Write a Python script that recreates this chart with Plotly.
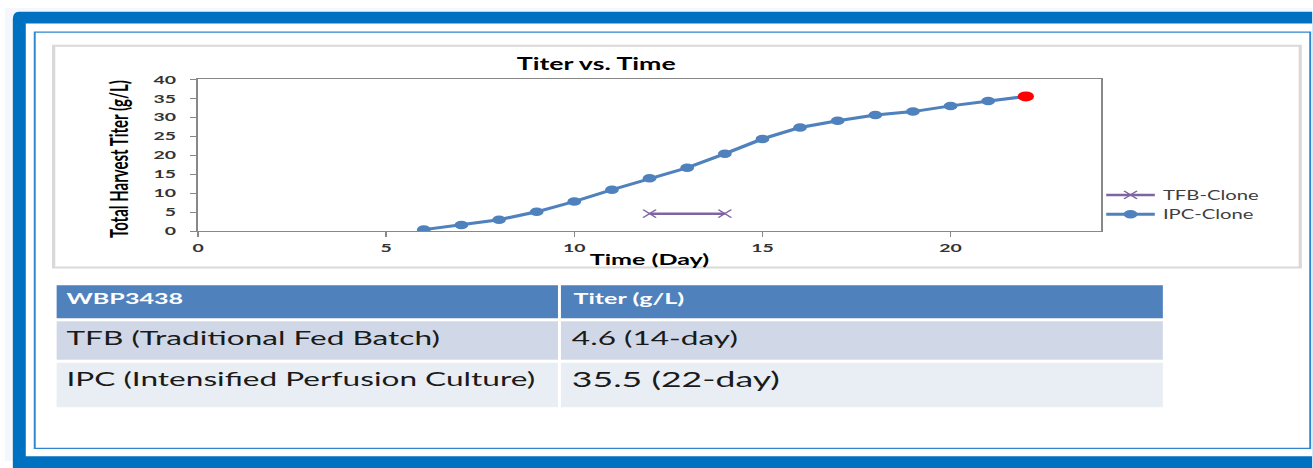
import plotly.graph_objects as go

W, H = 1313, 468
STRETCH = 1.62            # the reference is horizontally stretched
W0 = round(W / STRETCH)   # layout width before the horizontal stretch

# ---------------- data ----------------
ipc_days = [6, 7, 8, 9, 10, 11, 12, 13, 14, 15, 16, 17, 18, 19, 20, 21, 22]
ipc_titer = [0.4, 1.6, 3.0, 5.1, 7.8, 10.9, 13.9, 16.7, 20.4, 24.3, 27.3, 29.1, 30.6, 31.5, 33.0, 34.3, 35.5]
tfb_days = [12, 14]
tfb_titer = [4.6, 4.6]
highlight_day = [22]
highlight_titer = [35.5]

chart_title = "Titer vs. Time"
x_title = "Time (Day)"
y_title = "Total Harvest Titer (g/L)"
x_ticks = [0, 5, 10, 15, 20]
y_ticks = [0, 5, 10, 15, 20, 25, 30, 35, 40]

table_header = ["WBP3438", "Titer (g/L)"]
table_col1 = ["TFB (Traditional Fed Batch)", "IPC (Intensified Perfusion Culture)"]
table_col2 = ["4.6 (14-day)", "35.5 (22-day)"]


def px(x):
    return x / W


def py(y):
    return 1 - y / H


FONT = "Lato"

fig = go.Figure()

fig.add_trace(go.Scatter(
    x=tfb_days, y=tfb_titer, name="TFB-Clone", mode="lines+markers",
    line=dict(color="#8064A2", width=2.5),
    marker=dict(symbol="x-thin", size=8, line=dict(color="#8064A2", width=1.2)),
))
fig.add_trace(go.Scatter(
    x=ipc_days, y=ipc_titer, name="IPC-Clone", mode="lines+markers",
    line=dict(color="#4F81BD", width=3),
    marker=dict(symbol="circle", size=8.5, color="#4F81BD"),
))
fig.add_trace(go.Scatter(
    x=highlight_day, y=highlight_titer, mode="markers", showlegend=False,
    marker=dict(symbol="circle", size=10, color="#FF0000"),
))

shapes = []
# page background outside frame
shapes.append(dict(type="rect", xref="paper", yref="paper", x0=0, x1=1, y0=0, y1=1,
                   fillcolor="#F4F7FB", line=dict(width=0), layer="below"))
# thick blue frame with rounded top-left corner
frame_path = "M {a},{b} L {a},{c} Q {a},{d} {e},{d} L {f},{d} L {f},{b} Z".format(
    a=px(8), b=py(480), c=py(12), d=py(4), e=px(14), f=px(1325))
shapes.append(dict(type="path", xref="paper", yref="paper", path=frame_path,
                   fillcolor="#0070C0", line=dict(width=0), layer="below"))
shapes.append(dict(type="rect", xref="paper", yref="paper", x0=px(21), x1=px(1325), y0=py(463), y1=py(16),
                   fillcolor="#FFFFFF", line=dict(width=0), layer="below"))
# thin inner line
shapes.append(dict(type="rect", xref="paper", yref="paper", x0=px(30), x1=px(1311), y0=py(455), y1=py(25),
                   fillcolor="#FFFFFF", line=dict(color="#2E86D1", width=1.2), layer="below"))
# chart box
shapes.append(dict(type="rect", xref="paper", yref="paper", x0=px(49), x1=px(1301), y0=py(268), y1=py(39),
                   fillcolor="#FFFFFF", line=dict(color="#D9D9D9", width=2), layer="below"))

# table
col_x = [52, 557, 1163]
row_y = [285, 322, 365, 414]
row_fill = ["#4F81BD", "#D0D8E8", "#E9EDF4"]
for r in range(3):
    for c in range(2):
        shapes.append(dict(type="rect", xref="paper", yref="paper",
                           x0=px(col_x[c] + (0 if c == 0 else 1.5)), x1=px(col_x[c + 1] - (1.5 if c == 0 else 0)),
                           y0=py(row_y[r + 1] - 1.5), y1=py(row_y[r] + 1.5),
                           fillcolor=row_fill[r], line=dict(width=0), layer="below"))

annotations = []
annotations.append(dict(text=table_header[0], x=px(59), y=py(300), xref="paper", yref="paper",
                        xanchor="left", yanchor="middle", showarrow=False,
                        font=dict(family=FONT, size=15.5, color="white", weight="bold")))
annotations.append(dict(text=table_header[1], x=px(568), y=py(300), xref="paper", yref="paper",
                        xanchor="left", yanchor="middle", showarrow=False,
                        font=dict(family=FONT, size=15.5, color="white", weight="bold")))
text_y = [340, 383]
val_size = [19.5, 22]
for i in range(2):
    annotations.append(dict(text=table_col1[i], x=px(58), y=py(text_y[i]), xref="paper", yref="paper",
                            xanchor="left", yanchor="middle", showarrow=False,
                            font=dict(family=FONT, size=19.5, color="#1a1a1a")))
    annotations.append(dict(text=table_col2[i], x=px(567), y=py(text_y[i]), xref="paper", yref="paper",
                            xanchor="left", yanchor="middle", showarrow=False,
                            font=dict(family=FONT, size=val_size[i], color="#1a1a1a")))

# chart title and axis titles
annotations.append(dict(text=chart_title, x=px(594), y=py(58), xref="paper", yref="paper",
                        xanchor="center", yanchor="middle", showarrow=False,
                        font=dict(family=FONT, size=16.5, color="black", weight="bold")))
annotations.append(dict(text=x_title, x=px(648), y=py(259), xref="paper", yref="paper",
                        xanchor="center", yanchor="middle", showarrow=False,
                        font=dict(family=FONT, size=15.5, color="black", weight="bold")))
annotations.append(dict(text=y_title, x=px(114), y=py(156), xref="paper", yref="paper",
                        xanchor="center", yanchor="middle", showarrow=False, textangle=-90,
                        font=dict(family=FONT, size=15, color="black", weight="bold")))

fig.update_layout(
    width=W0, height=H,
    margin=dict(l=0, r=0, t=0, b=0),
    paper_bgcolor="white",
    plot_bgcolor="white",
    shapes=shapes,
    annotations=annotations,
    showlegend=True,
    legend=dict(x=px(1098), y=py(178), xanchor="left", yanchor="top",
                bgcolor="rgba(0,0,0,0)", font=dict(family=FONT, size=12.5, color="#404040"),
                itemwidth=30, tracegroupgap=0),
    xaxis=dict(domain=[px(194), px(1101)], range=[0, 24], tickvals=x_ticks,
               showgrid=False, zeroline=False, showline=True, linecolor="#888888", linewidth=1.2,
               mirror=True, ticks="outside", ticklen=5, tickcolor="#888888",
               tickfont=dict(family=FONT, size=12, color="#333333", weight="bold")),
    yaxis=dict(domain=[py(230.5), py(73.7)], range=[0, 40], tickvals=y_ticks,
               showgrid=False, zeroline=False, showline=True, linecolor="#888888", linewidth=1.2,
               mirror=True, ticks="outside", ticklen=4, tickcolor="#888888", ticklabelstandoff=6,
               tickfont=dict(family=FONT, size=12, color="#333333", weight="bold")),
)

post = (
    "document.body.style.margin='0';"
    "document.body.style.overflow='hidden';"
    "var d=document.getElementById('{plot_id}');"
    "d.style.transformOrigin='0 0';"
    "d.style.transform='scale(%s,1)';" % STRETCH
)

fig.write_html("out.html", post_script=post, config={"displayModeBar": False})
